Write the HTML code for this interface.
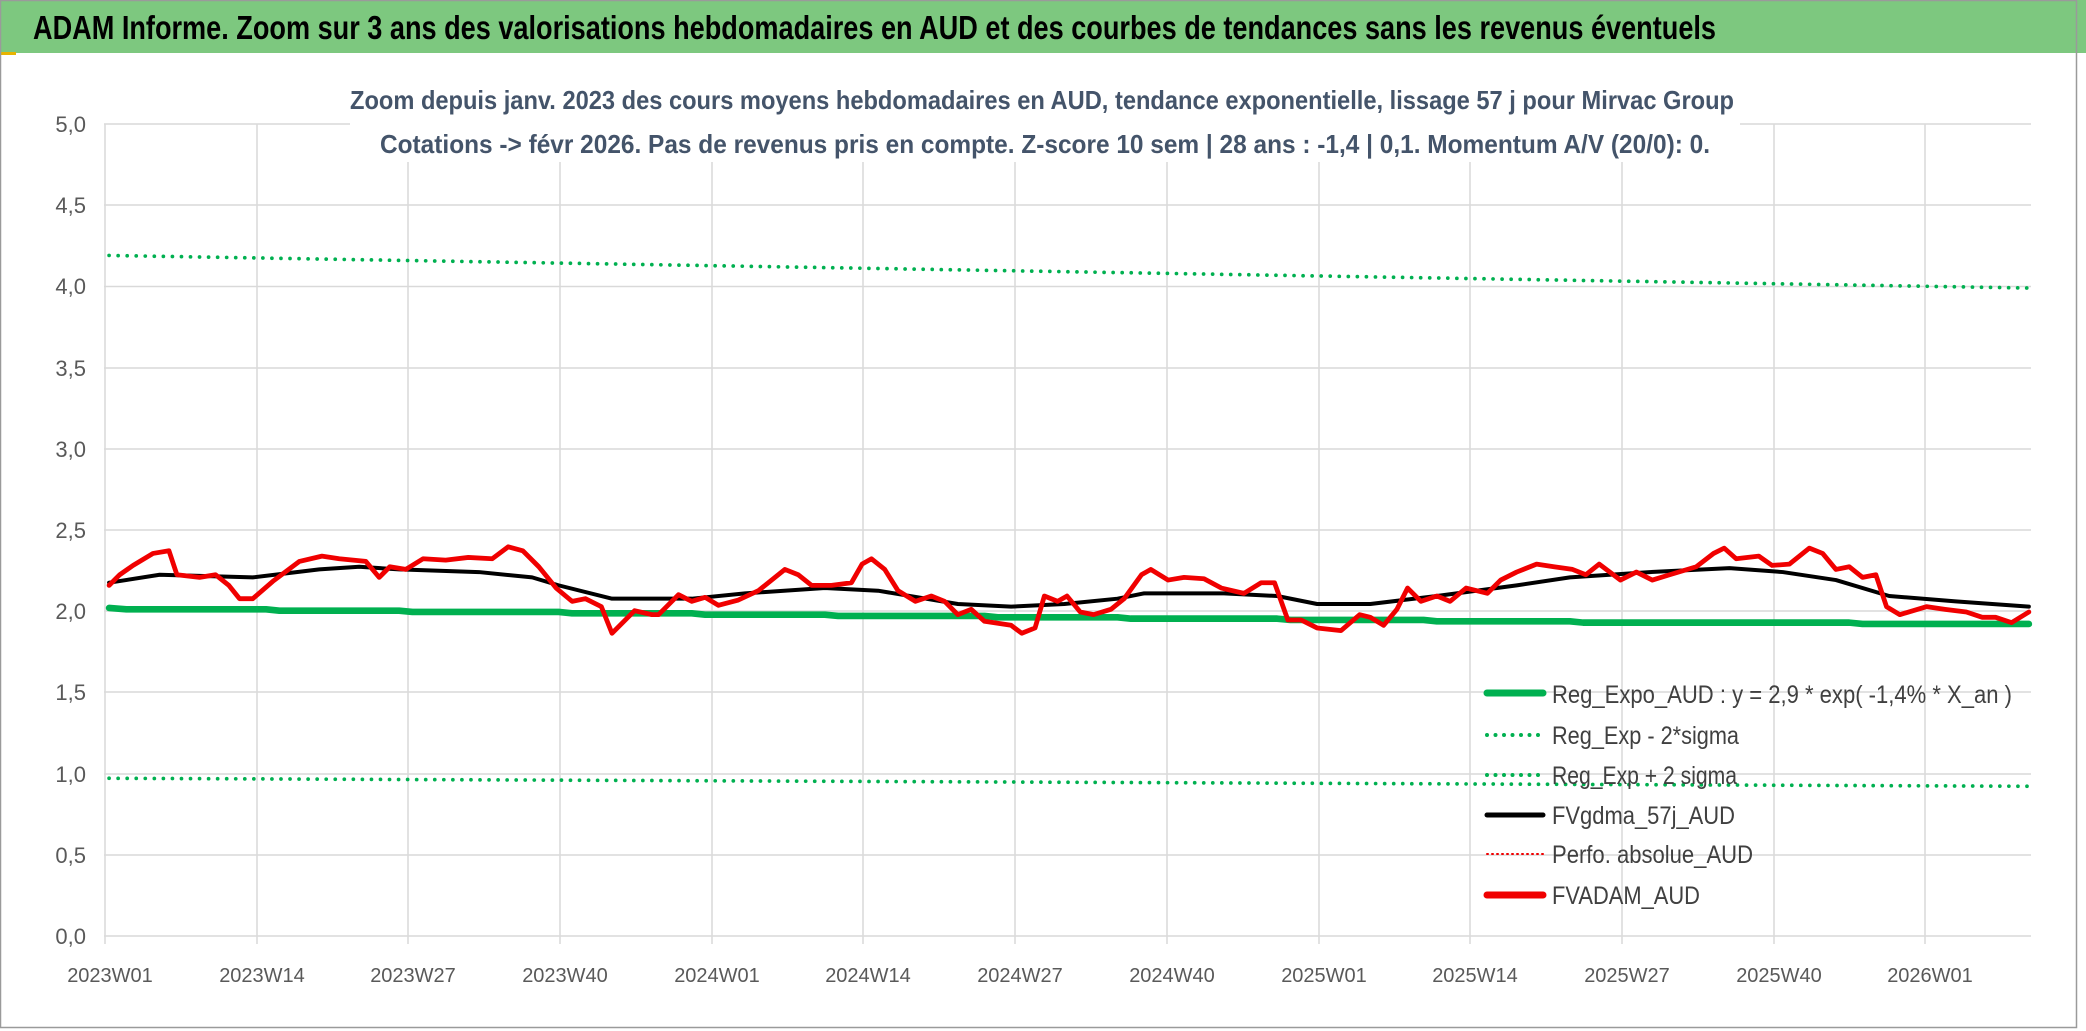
<!DOCTYPE html>
<html><head><meta charset="utf-8"><style>html,body{margin:0;padding:0;background:#fff}svg{display:block}</style></head>
<body>
<svg width="2086" height="1031" viewBox="0 0 2086 1031" xmlns="http://www.w3.org/2000/svg" font-family="'Liberation Sans Narrow','Liberation Sans',sans-serif">
<rect x="0" y="0" width="2086" height="1031" fill="#fff"/>
<rect x="0" y="0" width="2086" height="53" fill="#7dc87f"/>
<rect x="0" y="52" width="16" height="3" fill="#e8b400"/>
<text x="33" y="39" font-size="33" font-weight="bold" fill="#000" textLength="1683" lengthAdjust="spacingAndGlyphs">ADAM Informe. Zoom sur 3 ans des valorisations hebdomadaires en AUD et des courbes de tendances sans les revenus éventuels</text>
<rect x="0.5" y="0.5" width="2076" height="1027" fill="none" stroke="#9a9a9a" stroke-width="1.5"/>
<g stroke="#d9d9d9" stroke-width="1.5">
<line x1="104" y1="124" x2="2031" y2="124"/><line x1="104" y1="205" x2="2031" y2="205"/><line x1="104" y1="286.5" x2="2031" y2="286.5"/><line x1="104" y1="368" x2="2031" y2="368"/><line x1="104" y1="449" x2="2031" y2="449"/><line x1="104" y1="530" x2="2031" y2="530"/><line x1="104" y1="611" x2="2031" y2="611"/><line x1="104" y1="692" x2="2031" y2="692"/><line x1="104" y1="774" x2="2031" y2="774"/><line x1="104" y1="855" x2="2031" y2="855"/><line x1="104" y1="936" x2="2031" y2="936"/>
<line x1="105" y1="124" x2="105" y2="944"/><line x1="257" y1="124" x2="257" y2="944"/><line x1="408" y1="124" x2="408" y2="944"/><line x1="560" y1="124" x2="560" y2="944"/><line x1="712" y1="124" x2="712" y2="944"/><line x1="863" y1="124" x2="863" y2="944"/><line x1="1015" y1="124" x2="1015" y2="944"/><line x1="1167" y1="124" x2="1167" y2="944"/><line x1="1319" y1="124" x2="1319" y2="944"/><line x1="1470" y1="124" x2="1470" y2="944"/><line x1="1622" y1="124" x2="1622" y2="944"/><line x1="1774" y1="124" x2="1774" y2="944"/><line x1="1925" y1="124" x2="1925" y2="944"/>
</g>
<rect x="350" y="72" width="1390" height="90" fill="#fff"/>
<g fill="#44546a" font-size="26" font-weight="bold" text-anchor="middle">
<text x="1042" y="109" textLength="1384" lengthAdjust="spacingAndGlyphs">Zoom depuis janv. 2023 des cours moyens hebdomadaires en AUD, tendance exponentielle, lissage 57 j pour Mirvac Group</text>
<text x="1045" y="153" textLength="1330" lengthAdjust="spacingAndGlyphs">Cotations -&gt; févr 2026. Pas de revenus pris en compte. Z-score 10 sem | 28 ans : -1,4 | 0,1. Momentum A/V (20/0): 0.</text>
</g>
<g fill="#595959" font-size="22" text-anchor="end">
<text x="86" y="132">5,0</text><text x="86" y="213">4,5</text><text x="86" y="294">4,0</text><text x="86" y="376">3,5</text><text x="86" y="457">3,0</text><text x="86" y="538">2,5</text><text x="86" y="619">2,0</text><text x="86" y="700">1,5</text><text x="86" y="782">1,0</text><text x="86" y="863">0,5</text><text x="86" y="944">0,0</text>
</g>
<g fill="#595959" font-size="20" text-anchor="middle">
<text x="110" y="982">2023W01</text><text x="262" y="982">2023W14</text><text x="413" y="982">2023W27</text><text x="565" y="982">2023W40</text><text x="717" y="982">2024W01</text><text x="868" y="982">2024W14</text><text x="1020" y="982">2024W27</text><text x="1172" y="982">2024W40</text><text x="1324" y="982">2025W01</text><text x="1475" y="982">2025W14</text><text x="1627" y="982">2025W27</text><text x="1779" y="982">2025W40</text><text x="1930" y="982">2026W01</text>
</g>
<g transform="scale(1.3304)" fill="none" stroke-linejoin="round" stroke-linecap="round">
<line x1="82" y1="192" x2="1525" y2="216.5" stroke="#00b050" stroke-width="2.8" stroke-dasharray="0 6.8"/>
<line x1="82" y1="585" x2="1525" y2="591" stroke="#00b050" stroke-width="2.8" stroke-dasharray="0 6.8"/>
<polyline stroke="#00b050" stroke-width="5" points="82,457 95,458 200,458 210,459 300,459 310,460 420,460 430,461 520,461 530,462 620,462 630,463 740,463 750,464 840,464 850,465 960,465 970,466 1070,466 1080,467 1180,467 1190,468 1290,468 1300,468 1390,468 1400,469 1525,469"/>
<polyline stroke="#000" stroke-width="3" points="82,438 120,432 190,434 240,428 270,426 300,428 360,430 400,434 420,440 460,450 520,450 560,446 620,442 660,444 720,454 760,456 800,454 840,450 860,446 920,446 960,448 990,454 1030,454 1080,448 1140,440 1180,434 1240,430 1300,427 1340,430 1380,436 1420,448 1470,452 1525,456"/>
<polyline stroke="#f00000" stroke-width="3.6" points="82,440 90,432 100,425 115,416 127,414 133,432 150,434 162,432 172,440 180,450 190,450 205,437 225,422 242,418 255,420 275,422 285,434 293,426 305,428 318,420 335,421 352,419 370,420 382,411 393,414 405,426 418,442 430,452 440,450 452,456 460,476 477,459 490,462 495,462 510,447 520,452 530,449 540,455 555,451 570,444 590,428 600,432 610,440 625,440 640,438 648,424 655,420 665,428 675,444 688,452 700,448 710,452 720,462 730,458 740,467 760,470 768,476 778,472 785,448 795,452 802,448 812,460 822,462 835,458 845,450 858,432 865,428 878,436 890,434 905,435 918,442 935,446 948,438 958,438 968,466 978,466 990,472 1008,474 1022,462 1030,464 1040,470 1050,458 1058,442 1068,452 1080,448 1090,452 1102,442 1118,446 1128,436 1140,430 1155,424 1168,426 1182,428 1192,432 1202,424 1218,436 1230,430 1242,436 1255,432 1275,426 1288,416 1296,412 1305,420 1322,418 1332,425 1345,424 1360,412 1370,416 1380,428 1390,426 1400,434 1410,432 1418,456 1428,462 1448,456 1462,458 1478,460 1490,464 1500,464 1512,468 1525,460"/>
</g>
<g stroke-linecap="round">
<line x1="1487" y1="693" x2="1543" y2="693" stroke="#00b050" stroke-width="7"/>
<line x1="1487" y1="735" x2="1543" y2="735" stroke="#00b050" stroke-width="4" stroke-dasharray="0 8.5"/>
<line x1="1487" y1="775" x2="1543" y2="775" stroke="#00b050" stroke-width="4" stroke-dasharray="0 8.5"/>
<line x1="1487" y1="815" x2="1543" y2="815" stroke="#000" stroke-width="5"/>
<line x1="1487" y1="854" x2="1543" y2="854" stroke="#f00000" stroke-width="2" stroke-dasharray="1 4"/>
<line x1="1487" y1="895" x2="1543" y2="895" stroke="#f00000" stroke-width="7"/>
</g>
<g fill="#404040" font-size="25">
<text x="1552" y="703" textLength="460" lengthAdjust="spacingAndGlyphs">Reg_Expo_AUD : y = 2,9 * exp( -1,4% *  X_an )</text>
<text x="1552" y="744" textLength="187" lengthAdjust="spacingAndGlyphs">Reg_Exp - 2*sigma</text>
<text x="1552" y="784" textLength="185" lengthAdjust="spacingAndGlyphs">Reg_Exp + 2 sigma</text>
<text x="1552" y="824" textLength="183" lengthAdjust="spacingAndGlyphs">FVgdma_57j_AUD</text>
<text x="1552" y="863" textLength="201" lengthAdjust="spacingAndGlyphs">Perfo. absolue_AUD</text>
<text x="1552" y="904" textLength="148" lengthAdjust="spacingAndGlyphs">FVADAM_AUD</text>
</g>
</svg>
</body></html>
